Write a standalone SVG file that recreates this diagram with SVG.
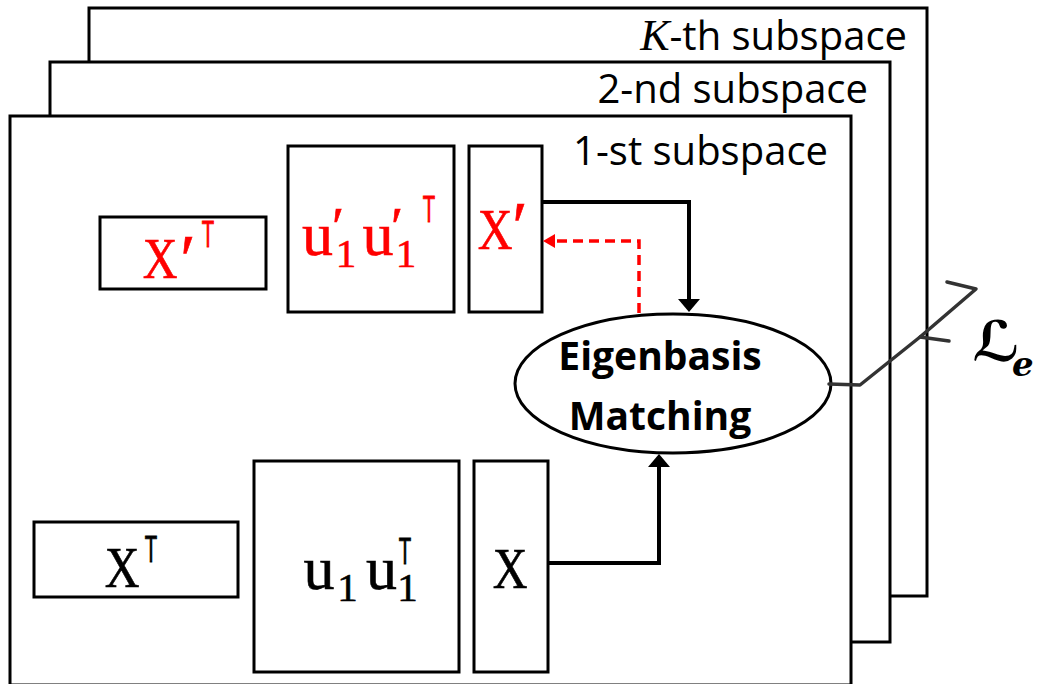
<svg xmlns="http://www.w3.org/2000/svg" width="1038" height="684" viewBox="0 0 1038 684">
<style>
.panel{fill:#fff;stroke:#000;stroke-width:3}
.box{fill:#fff;stroke:#000;stroke-width:3}
.lbl{font-family:"Open Sans","Liberation Sans",sans-serif;font-size:40px;fill:#000}
.eig{font-family:"Open Sans","Liberation Sans",sans-serif;font-size:39px;font-weight:bold;fill:#000}
.m{font-family:"Liberation Serif","DejaVu Serif",serif;text-anchor:middle;stroke-width:0.6}
.X{font-size:58px}
.u{font-size:62px}
.s{font-size:41px}
.p{font-size:70px}
.pu{font-size:55px}
.T{font-family:"Liberation Sans",sans-serif;font-size:37px;text-anchor:middle;stroke-width:0.9}
.red{fill:#ff0000;stroke:#ff0000}
.blk{fill:#000;stroke:#000}
.arr{fill:none;stroke:#000;stroke-width:4}
.dash{fill:none;stroke:#ff0000;stroke-width:3.5;stroke-dasharray:10 6}
.loss{fill:none;stroke:#333;stroke-width:3.5;stroke-linejoin:round;stroke-linecap:round}
</style>
<defs>
<marker id="ah" markerUnits="userSpaceOnUse" viewBox="0 0 13 22" markerWidth="13" markerHeight="22" refX="3" refY="11" orient="auto"><path d="M0,0 L13,11 L0,22 z" fill="#000"/></marker>
<marker id="ahr" markerUnits="userSpaceOnUse" viewBox="0 0 12 14" markerWidth="12" markerHeight="14" refX="2" refY="7" orient="auto"><path d="M0,0 L12,7 L0,14 z" fill="#ff0000"/></marker>
</defs>

<g id="panel-k">
<rect class="panel" x="89" y="8" width="838" height="588"/>
<text class="lbl" x="907" y="50" text-anchor="end"><tspan font-family="Liberation Serif,serif" font-style="italic" font-size="44">K</tspan>-th subspace</text>
</g>
<g id="panel-2">
<rect class="panel" x="50" y="62" width="840" height="580"/>
<text class="lbl" x="868" y="103" text-anchor="end">2-nd subspace</text>
</g>
<g id="panel-1">
<rect class="panel" x="10" y="116" width="841" height="569"/>
<text class="lbl" x="828" y="165" text-anchor="end">1-st subspace</text>
</g>

<g id="node-xpT">
<rect class="box" x="100" y="217" width="166" height="72"/>
<text class="m X red" transform="translate(160,278) scale(0.83,1)">X</text>
<text class="m p red" x="188" y="283">′</text>
<text class="T red" transform="translate(208,247) scale(0.55,1)">T</text>
</g>
<g id="node-upupT">
<rect class="box" x="288" y="146" width="166" height="166"/>
<text class="m u red" x="317.5" y="255">u</text>
<text class="m pu red" x="338" y="245">′</text>
<text class="m s red" x="346" y="267">1</text>
<text class="m u red" x="378" y="255">u</text>
<text class="m pu red" x="397" y="245">′</text>
<text class="m s red" x="406" y="267">1</text>
<text class="T red" transform="translate(429,222) scale(0.55,1)">T</text>
</g>
<g id="node-xp">
<rect class="box" x="469" y="146" width="73" height="166"/>
<text class="m X red" transform="translate(495,249) scale(0.83,1)">X</text>
<text class="m p red" x="520" y="250">′</text>
</g>

<g id="node-xT">
<rect class="box" x="34" y="522" width="204" height="75"/>
<text class="m X blk" transform="translate(122,587) scale(0.83,1)">X</text>
<text class="T blk" transform="translate(151,562) scale(0.55,1)">T</text>
</g>
<g id="node-uuT">
<rect class="box" x="254" y="461" width="205" height="211"/>
<text class="m u blk" x="319" y="589">u</text>
<text class="m s blk" x="347.5" y="601">1</text>
<text class="m u blk" x="381.5" y="589">u</text>
<text class="T blk" transform="translate(405,564) scale(0.55,1)">T</text>
<text class="m s blk" x="407.5" y="601">1</text>
</g>
<g id="node-x">
<rect class="box" x="474" y="461" width="74" height="211"/>
<text class="m X blk" transform="translate(510,588) scale(0.83,1)">X</text>
</g>

<g id="node-eig">
<ellipse cx="673" cy="383.5" rx="158" ry="69.5" fill="#fff" stroke="#000" stroke-width="3"/>
<text class="eig" x="660" y="370" text-anchor="middle">Eigenbasis</text>
<text class="eig" x="660" y="430" text-anchor="middle">Matching</text>
</g>

<g id="node-loss">
<text x="972" y="361" font-family="DejaVu Serif,DejaVu Sans,serif" font-size="56" font-weight="bold" font-style="italic">ℒ</text>
<text x="1012" y="376" font-family="DejaVu Serif,serif" font-size="34" font-weight="bold" font-style="italic">e</text>
</g>

<g id="connectors">
<path class="arr" d="M542,202 H689 V302" marker-end="url(#ah)"/>
<path class="arr" d="M548,563 H659 V464" marker-end="url(#ah)"/>
<path class="dash" d="M639,313 V241 H553" marker-end="url(#ahr)"/>
<path class="loss" d="M829,384 L860,385 L920,337 L976,289 L947,282"/>
<path class="loss" d="M920,337 L949,341"/>
</g>
</svg>
